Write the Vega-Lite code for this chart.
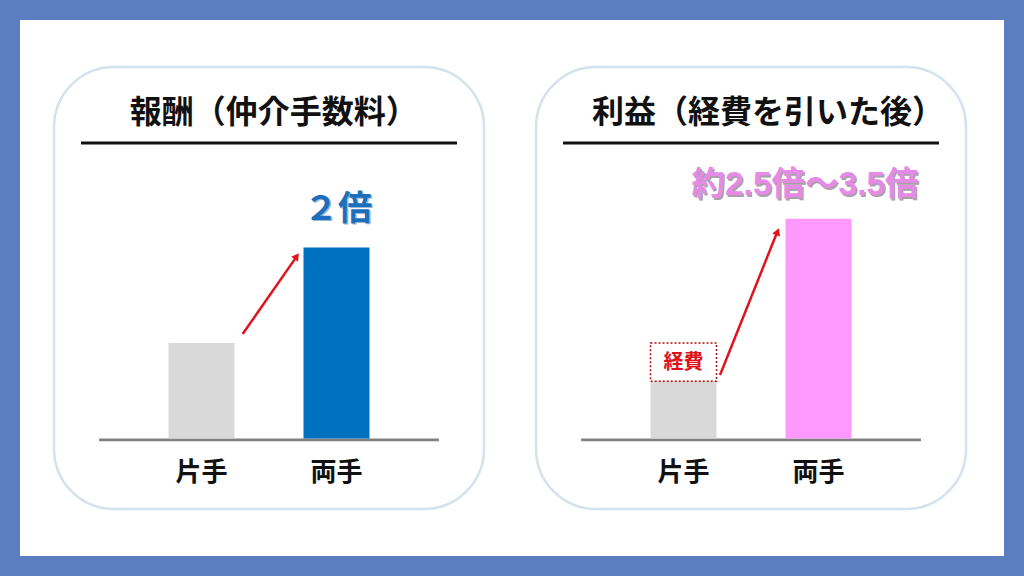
{
  "$schema": "https://vega.github.io/schema/vega-lite/v6.json",
  "width": 1024,
  "height": 576,
  "autosize": {"type": "fit", "contains": "padding"},
  "padding": 20,
  "background": "#5a7ec0",
  "datasets": {
    "panels": [
      {"panel": "報酬", "title": "報酬（仲介手数料）"},
      {"panel": "利益", "title": "利益（経費を引いた後）"}
    ],
    "bars": [
      {"panel": "報酬", "side": "片手", "item": "報酬", "value": 1.0},
      {"panel": "報酬", "side": "両手", "item": "報酬", "value": 2.0},
      {"panel": "利益", "side": "片手", "item": "利益", "value": 0.6},
      {"panel": "利益", "side": "片手", "item": "経費", "value": 0.4},
      {"panel": "利益", "side": "両手", "item": "利益", "value": 2.3}
    ],
    "notes": [
      {"panel": "報酬", "note": "２倍"},
      {"panel": "利益", "note": "約2.5倍～3.5倍"}
    ]
  },
  "config": {
    "view": {"fill": "white", "stroke": null},
    "axis": {"disable": true},
    "text": {"font": "Noto Sans CJK JP"}
  },
  "layer": [
    {
      "data": {"name": "panels"},
      "mark": {"type": "bar", "width": {"band": 0.892}, "cornerRadius": 60, "fill": "white", "stroke": "#d3e2ec", "strokeWidth": 2.5},
      "encoding": {
        "x": {"field": "panel", "type": "nominal", "axis": null, "scale": {"domain": ["報酬", "利益"], "paddingInner": 0, "paddingOuter": 0.0207, "align": 0.4}},
        "y": {"datum": 3.888, "type": "quantitative", "axis": null, "scale": {"domain": [-1.23, 4.38], "nice": false, "zero": false}},
        "y2": {"datum": -0.738}
      }
    },
    {
      "data": {"name": "panels"},
      "mark": {"type": "bar", "width": {"band": 0.78}, "color": "#111111"},
      "encoding": {
        "x": {"field": "panel", "type": "nominal"},
        "y": {"datum": 3.109, "type": "quantitative"},
        "y2": {"datum": 3.077}
      }
    },
    {
      "data": {"name": "panels"},
      "mark": {"type": "bar", "width": {"band": 0.705}, "color": "#808080"},
      "encoding": {
        "x": {"field": "panel", "type": "nominal"},
        "y": {"datum": 0, "type": "quantitative"},
        "y2": {"datum": -0.03}
      }
    },
    {
      "data": {"name": "panels"},
      "transform": [{"filter": "datum.panel === '報酬'"}],
      "mark": {"type": "text", "fontSize": 32, "fontWeight": "bold", "color": "#111111", "align": "center", "baseline": "middle"},
      "encoding": {
        "x": {"datum": "報酬", "type": "nominal", "bandPosition": 0.51},
        "y": {"datum": 3.407, "type": "quantitative"},
        "text": {"field": "title"}
      }
    },
    {
      "data": {"name": "panels"},
      "transform": [{"filter": "datum.panel === '利益'"}],
      "mark": {"type": "text", "fontSize": 32, "fontWeight": "bold", "color": "#111111", "align": "center", "baseline": "middle"},
      "encoding": {
        "x": {"datum": "利益", "type": "nominal", "bandPosition": 0.535},
        "y": {"datum": 3.407, "type": "quantitative"},
        "text": {"field": "title"}
      }
    },
    {
      "data": {"name": "bars"},
      "transform": [
        {"stack": "value", "groupby": ["panel", "side"], "sort": [{"field": "item", "order": "ascending"}], "as": ["v0", "v1"]}
      ],
      "mark": {"type": "bar", "width": 66, "stroke": "#b01010", "strokeDash": [2, 2]},
      "encoding": {
        "x": {"field": "panel", "type": "nominal"},
        "xOffset": {"field": "side", "type": "nominal", "scale": {"domain": ["片手", "両手"], "paddingInner": 0.4296, "paddingOuter": 1, "align": 0.5}},
        "y": {"field": "v0", "type": "quantitative"},
        "y2": {"field": "v1"},
        "color": {
          "condition": [
            {"test": "datum.item === '経費'", "value": "#ffffff"},
            {"test": "datum.side === '片手'", "value": "#d9d9d9"},
            {"test": "datum.panel === '報酬'", "value": "#0070c0"}
          ],
          "value": "#ff99ff"
        },
        "strokeWidth": {"condition": {"test": "datum.item === '経費'", "value": 1.5}, "value": 0}
      }
    },
    {
      "data": {"name": "bars"},
      "transform": [
        {"stack": "value", "groupby": ["panel", "side"], "sort": [{"field": "item", "order": "ascending"}], "as": ["v0", "v1"]},
        {"filter": "datum.item === '経費'"}
      ],
      "mark": {"type": "text", "fontSize": 20, "fontWeight": "bold", "color": "#e0101a", "baseline": "middle", "dy": 20},
      "encoding": {
        "x": {"field": "panel", "type": "nominal"},
        "xOffset": {"field": "side", "type": "nominal"},
        "y": {"field": "v1", "type": "quantitative"},
        "text": {"field": "item"}
      }
    },
    {
      "data": {"name": "bars"},
      "transform": [{"filter": "datum.item !== '経費'"}],
      "mark": {"type": "text", "fontSize": 26, "fontWeight": "bold", "color": "#111111", "baseline": "middle"},
      "encoding": {
        "x": {"field": "panel", "type": "nominal"},
        "xOffset": {"field": "side", "type": "nominal"},
        "y": {"datum": -0.361, "type": "quantitative"},
        "text": {"field": "side"}
      }
    },
    {
      "data": {"name": "notes"},
      "transform": [{"filter": "datum.panel === '報酬'"}],
      "mark": {"type": "text", "fontSize": 34, "fontWeight": "bold", "color": "#9fb7cf", "baseline": "middle", "dx": 1.5, "dy": 1.5, "font": "Liberation Sans, Noto Sans CJK JP"},
      "encoding": {
        "x": {"datum": "報酬", "type": "nominal", "bandPosition": 0.643},
        "y": {"datum": 2.392, "type": "quantitative"},
        "text": {"field": "note"}
      }
    },
    {
      "data": {"name": "notes"},
      "transform": [{"filter": "datum.panel === '報酬'"}],
      "mark": {"type": "text", "fontSize": 34, "fontWeight": "bold", "color": "#1d6fbd", "baseline": "middle", "font": "Liberation Sans, Noto Sans CJK JP"},
      "encoding": {
        "x": {"datum": "報酬", "type": "nominal", "bandPosition": 0.643},
        "y": {"datum": 2.392, "type": "quantitative"},
        "text": {"field": "note"}
      }
    },
    {
      "data": {"name": "notes"},
      "transform": [{"filter": "datum.panel === '利益'"}],
      "mark": {"type": "text", "fontSize": 33.5, "fontWeight": "bold", "color": "#a9a0a9", "baseline": "middle", "dx": 1.5, "dy": 1.5, "font": "Liberation Sans, Noto Sans CJK JP"},
      "encoding": {
        "x": {"datum": "利益", "type": "nominal", "bandPosition": 0.612},
        "y": {"datum": 2.653, "type": "quantitative"},
        "text": {"field": "note"}
      }
    },
    {
      "data": {"name": "notes"},
      "transform": [{"filter": "datum.panel === '利益'"}],
      "mark": {"type": "text", "fontSize": 33.5, "fontWeight": "bold", "color": "#e58be6", "baseline": "middle", "font": "Liberation Sans, Noto Sans CJK JP"},
      "encoding": {
        "x": {"datum": "利益", "type": "nominal", "bandPosition": 0.612},
        "y": {"datum": 2.653, "type": "quantitative"},
        "text": {"field": "note"}
      }
    },
    {
      "data": {"name": "notes"},
      "transform": [{"filter": "datum.panel === '報酬'"}],
      "mark": {"type": "rule", "color": "#e0141e", "strokeWidth": 2.5},
      "encoding": {
        "x": {"datum": "報酬", "type": "nominal", "bandPosition": 0.4454},
        "x2": {"datum": "報酬", "bandPosition": 0.5554},
        "y": {"datum": 1.094, "type": "quantitative"},
        "y2": {"datum": 1.89}
      }
    },
    {
      "data": {"name": "notes"},
      "transform": [{"filter": "datum.panel === '報酬'"}],
      "mark": {"type": "point", "shape": "triangle-up", "filled": true, "color": "#e0141e", "size": 70, "angle": 35, "opacity": 1},
      "encoding": {
        "x": {"datum": "報酬", "type": "nominal", "bandPosition": 0.5575},
        "y": {"datum": 1.907, "type": "quantitative"}
      }
    },
    {
      "data": {"name": "notes"},
      "transform": [{"filter": "datum.panel === '利益'"}],
      "mark": {"type": "rule", "color": "#e0141e", "strokeWidth": 2.5},
      "encoding": {
        "x": {"datum": "利益", "type": "nominal", "bandPosition": 0.4357},
        "x2": {"datum": "利益", "bandPosition": 0.5535},
        "y": {"datum": 0.665, "type": "quantitative"},
        "y2": {"datum": 2.15}
      }
    },
    {
      "data": {"name": "notes"},
      "transform": [{"filter": "datum.panel === '利益'"}],
      "mark": {"type": "point", "shape": "triangle-up", "filled": true, "color": "#e0141e", "size": 70, "angle": 22, "opacity": 1},
      "encoding": {
        "x": {"datum": "利益", "type": "nominal", "bandPosition": 0.555},
        "y": {"datum": 2.165, "type": "quantitative"}
      }
    }
  ]
}
